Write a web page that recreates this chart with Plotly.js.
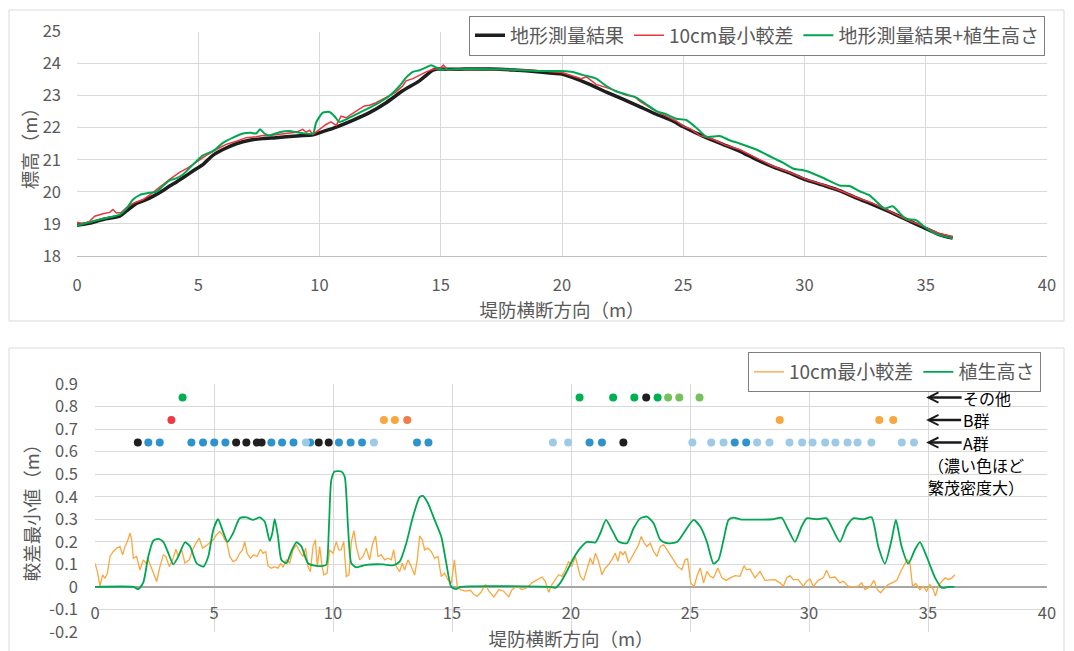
<!DOCTYPE html>
<html><head><meta charset="utf-8">
<script src="https://cdn.plot.ly/plotly-3.0.1.min.js"></script>
<style>html,body{margin:0;padding:0;background:#fff;}#chart{width:1074px;height:651px;}</style>
</head><body><div id="chart"></div>
<script>
// ---------- Top chart data (堤防横断方向 m / 標高 m) ----------
const terrainX = [0,0.5,1.07,1.5,1.76,2.03,2.45,2.8,3.13,3.5,3.82,4.1,4.37,4.78,5.19,5.6,6.02,6.57,7.12,7.66,8.2,8.63,9.2,9.73,10.14,10.69,11.37,12.06,12.75,13.43,14.12,14.67,14.85,15.5,16,17,18,19.08,20,20.45,21.14,21.83,22.51,23.2,23.89,24.57,25,25.95,26.63,27.32,28.01,28.7,29.38,30,30.76,31.44,32.13,32.82,33.5,34.19,34.88,35.55,36.11];
const terrainZ = [18.96,19.02,19.14,19.2,19.24,19.4,19.64,19.74,19.86,20.02,20.18,20.31,20.44,20.65,20.85,21.14,21.32,21.5,21.61,21.66,21.69,21.72,21.75,21.78,21.88,22.02,22.23,22.47,22.78,23.15,23.46,23.79,23.83,23.82,23.83,23.83,23.8,23.74,23.67,23.56,23.35,23.11,22.89,22.66,22.42,22.21,22.03,21.69,21.48,21.27,21.01,20.78,20.59,20.39,20.21,20.04,19.81,19.6,19.38,19.14,18.9,18.67,18.56];

const minDiffTopX = [0,0.25,0.52,0.73,1.07,1.35,1.48,1.62,1.83,2.03,2.31,2.51,2.72,2.99,3.41,3.82,4.23,4.57,4.92,5.33,5.74,6.15,6.57,6.98,7.39,7.66,7.94,8.49,9.04,9.31,9.45,9.59,9.73,10,10.27,10.47,10.69,10.89,11.1,11.37,11.65,11.85,12.06,12.33,12.61,12.88,13.15,13.43,13.57,13.85,14.12,14.4,14.67,14.95,15.11,15.29,15.7,16.2,16.7,17.2,17.7,18.2,18.7,19.08,20,20.45,20.8,21,21.41,21.83,22.24,22.65,23,23.2,23.75,24.3,24.71,25,25.33,25.67,26.22,26.77,27.32,28.01,28.7,29.38,30.07,30.76,31.44,32.13,32.82,33.5,34.19,34.88,35.55,36.11];
const minDiffTopZ = [19.05,19.01,19.08,19.24,19.32,19.36,19.45,19.34,19.36,19.5,19.64,19.71,19.76,19.9,20.16,20.39,20.61,20.75,20.93,21.14,21.32,21.48,21.58,21.69,21.72,21.76,21.76,21.82,21.86,21.95,21.86,21.92,21.79,21.95,22.1,22.18,22.07,22.36,22.31,22.45,22.57,22.68,22.7,22.78,22.89,22.99,23.11,23.3,23.46,23.53,23.64,23.74,23.82,23.84,23.95,23.8,23.82,23.8,23.83,23.81,23.82,23.79,23.8,23.77,23.72,23.61,23.53,23.59,23.35,23.25,23.15,23.01,22.97,22.83,22.57,22.36,22.21,22.05,21.95,21.76,21.64,21.45,21.32,21.06,20.8,20.61,20.39,20.23,20.05,19.83,19.64,19.4,19.14,18.93,18.7,18.61];

const vegTopX = [0,1.07,1.76,2.03,2.31,2.58,2.99,3.27,3.54,3.82,4.09,4.37,4.78,5.19,5.6,6.02,6.43,6.84,7.18,7.39,7.55,7.73,7.94,8.35,8.76,9.18,9.73,9.86,10.14,10.41,10.62,10.82,11.1,11.65,12.33,12.88,13.3,13.57,13.85,14.12,14.4,14.6,14.81,14.95,16,17.5,19.08,20,20.45,20.87,21.41,21.83,22.24,22.65,23.06,23.48,23.89,24.3,24.71,25.12,25.54,25.95,26.5,26.91,27.32,28.01,28.7,29.11,29.52,30.07,30.76,31.44,31.85,32.27,32.68,32.95,33.3,33.64,33.92,34.19,34.6,35,35.42,36.11];
const vegTopZ = [18.95,19.16,19.29,19.47,19.76,19.9,19.97,20,20.18,20.36,20.42,20.54,20.85,21.14,21.27,21.53,21.69,21.82,21.84,21.82,21.95,21.82,21.76,21.86,21.9,21.84,21.82,22.16,22.47,22.49,22.36,22.18,22.26,22.47,22.73,22.99,23.3,23.56,23.74,23.79,23.88,23.95,23.88,23.82,23.83,23.82,23.77,23.77,23.74,23.64,23.53,23.3,23.13,23.04,22.94,22.73,22.52,22.42,22.28,22.24,22,21.72,21.74,21.61,21.51,21.32,21.06,20.91,20.73,20.65,20.44,20.2,20.18,20.02,19.89,19.71,19.48,19.55,19.34,19.16,19.12,18.88,18.69,18.55];

// ---------- Bottom chart data (較差最小値 m) ----------
const minDiffX = [0,0.1,0.21,0.32,0.42,0.52,0.63,0.77,0.91,1.05,1.16,1.26,1.36,1.47,1.54,1.61,1.75,1.89,2.03,2.14,2.24,2.38,2.48,2.59,2.73,2.87,2.98,3.12,3.26,3.4,3.5,3.64,3.78,3.96,4.1,4.24,4.38,4.52,4.66,4.8,4.97,5.1,5.24,5.36,5.45,5.55,5.66,5.8,5.94,6.08,6.2,6.29,6.39,6.53,6.67,6.81,6.95,7.06,7.17,7.27,7.41,7.55,7.69,7.8,7.9,8.04,8.18,8.32,8.46,8.6,8.74,8.85,8.95,9.05,9.16,9.26,9.34,9.44,9.54,9.62,9.75,9.86,10,10.14,10.24,10.34,10.45,10.56,10.67,10.77,10.88,10.98,11.12,11.26,11.4,11.54,11.65,11.79,11.89,12.03,12.17,12.31,12.45,12.55,12.66,12.8,12.91,13.01,13.15,13.29,13.43,13.54,13.64,13.75,13.85,13.99,14.13,14.27,14.41,14.55,14.69,14.83,14.97,15.1,15.22,15.36,15.57,15.78,15.92,16.06,16.2,16.41,16.55,16.76,16.97,17.17,17.38,17.52,17.73,17.94,18.15,18.36,18.57,18.78,18.92,19.06,19.2,19.34,19.48,19.62,19.76,19.9,20.04,20.18,20.29,20.39,20.53,20.67,20.81,20.92,21.02,21.16,21.3,21.44,21.58,21.72,21.86,21.97,22.07,22.18,22.28,22.42,22.56,22.7,22.84,22.95,23.08,23.19,23.33,23.47,23.61,23.75,23.89,24.03,24.17,24.31,24.48,24.66,24.8,24.9,25.03,25.17,25.29,25.43,25.57,25.71,25.85,25.99,26.17,26.34,26.52,26.69,26.9,27.1,27.27,27.38,27.52,27.73,27.94,28.15,28.36,28.57,28.78,28.92,29.06,29.2,29.34,29.55,29.76,29.9,30.04,30.18,30.39,30.6,30.74,30.88,31.09,31.3,31.44,31.65,31.86,32.07,32.21,32.35,32.56,32.73,32.87,33.01,33.19,33.33,33.55,33.69,33.89,34.03,34.13,34.24,34.35,34.49,34.66,34.8,34.94,35.08,35.22,35.31,35.43,35.58,35.72,35.86,36,36.13];
const minDiffY = [0.105,0.068,0.004,0.053,0.038,0.061,0.135,0.157,0.172,0.179,0.142,0.179,0.201,0.238,0.209,0.127,0.135,0.075,0.12,0.105,0.12,0.083,0.061,0.024,0.09,0.142,0.135,0.09,0.12,0.167,0.135,0.164,0.105,0.12,0.164,0.194,0.216,0.172,0.182,0.194,0.209,0.231,0.246,0.231,0.209,0.194,0.135,0.112,0.12,0.149,0.164,0.201,0.149,0.127,0.142,0.135,0.167,0.149,0.157,0.093,0.083,0.09,0.083,0.105,0.087,0.12,0.105,0.164,0.186,0.157,0.135,0.172,0.09,0.068,0.179,0.209,0.09,0.179,0.09,0.053,0.061,0.164,0.149,0.201,0.164,0.164,0.201,0.046,0.053,0.201,0.25,0.179,0.12,0.135,0.172,0.12,0.186,0.226,0.135,0.142,0.12,0.127,0.12,0.164,0.09,0.068,0.105,0.075,0.12,0.09,0.053,0.12,0.226,0.209,0.164,0.172,0.157,0.127,0.135,0.046,0.061,0.031,0.016,0.12,0.003,-0.012,-0.019,-0.015,-0.034,-0.041,-0.026,0.01,-0.019,-0.044,-0.012,-0.019,-0.044,-0.012,0.003,-0.012,-0.004,0.018,0.032,0.044,0.025,-0.024,0.01,0.032,0.054,0.047,0.076,0.113,0.091,0.135,0.091,0.047,0.029,0.076,0.128,0.099,0.15,0.113,0.054,0.084,0.099,0.121,0.15,0.113,0.157,0.143,0.157,0.106,0.135,0.165,0.187,0.224,0.194,0.179,0.194,0.157,0.135,0.179,0.187,0.165,0.143,0.121,0.091,0.076,0.121,0.124,0.018,0,0.047,0.084,0.018,0.069,0.047,0.04,0.084,0.04,0.029,0.04,0.05,0.047,0.094,0.076,0.079,0.04,0.069,0.029,0.032,0.032,0.018,0.003,0.04,0.05,0.032,0.032,0.003,0.025,0.035,0.003,0.029,0.04,0.074,0.04,0.044,0.018,0.025,0.003,0,0.003,0.018,-0.012,0,0.029,-0.012,-0.026,-0.004,0.01,0.021,0.029,0.076,0.099,0.121,0.106,0.003,0.015,-0.012,0.003,-0.019,0.01,-0.012,-0.041,0.003,0.025,0.04,0.032,0.04,0.054];

const vegHeightX = [0,1.61,1.82,2.03,2.24,2.45,2.66,2.87,3.08,3.29,3.5,3.78,3.99,4.27,4.55,4.76,4.97,5.17,5.38,5.57,5.8,6.08,6.36,6.64,6.92,7.13,7.34,7.45,7.55,7.69,7.83,8.04,8.25,8.46,8.67,8.95,9.3,9.58,9.72,9.83,9.93,10.07,10.35,10.49,10.63,10.77,10.98,11.4,12.1,12.52,12.8,13.08,13.36,13.64,13.78,13.99,14.27,14.55,14.76,14.97,15.17,15.36,19.13,19.34,19.55,19.83,20.11,20.39,20.67,21.02,21.23,21.47,21.72,22,22.35,22.63,22.91,23.19,23.47,23.75,24.03,24.45,24.73,25.15,25.43,25.71,25.99,26.2,26.41,26.62,26.83,27.1,28.5,28.85,29.13,29.41,29.69,29.9,30.32,30.74,31.01,31.3,31.58,31.86,32.28,32.63,32.91,33.19,33.47,33.65,33.89,34.17,34.45,34.66,34.94,35.3,35.58,35.86,36.11];
const vegHeightY = [0,0,-0.01,0.02,0.135,0.205,0.213,0.2,0.15,0.1,0.135,0.198,0.18,0.105,0.09,0.135,0.253,0.3,0.245,0.2,0.238,0.305,0.308,0.297,0.308,0.29,0.204,0.238,0.3,0.223,0.12,0.105,0.157,0.198,0.18,0.105,0.093,0.093,0.098,0.268,0.475,0.512,0.512,0.49,0.268,0.105,0.087,0.098,0.1,0.096,0.112,0.194,0.312,0.398,0.404,0.371,0.297,0.223,0.105,0,-0.01,0,0,-0.004,0.018,0.07,0.128,0.172,0.2,0.197,0.238,0.297,0.253,0.2,0.194,0.26,0.304,0.312,0.282,0.209,0.194,0.199,0.238,0.297,0.268,0.2,0.103,0.121,0.209,0.297,0.307,0.3,0.3,0.307,0.253,0.2,0.268,0.304,0.3,0.304,0.253,0.2,0.268,0.304,0.3,0.309,0.179,0.103,0.209,0.297,0.179,0.103,0.165,0.199,0.135,0.04,-0.004,0,0];

// ---------- Vegetation group markers (x positions along the levee) ----------
const rowLevels = {A: 0.64, B: 0.74, other: 0.84};
const groupA_dense = [2.24,2.72,4.05,4.54,5.01,5.48,7.41,7.86,8.34,9.04,10.25,10.74,11.22,13.53,14.01,20.78,21.3,26.88,27.36];
const groupA_sparse = [8.86,11.72,19.24,19.88,25.1,25.89,26.41,27.82,28.34,29.18,29.71,30.15,30.68,31.11,31.62,32.04,32.62,33.9,34.41];
const groupA_black = [1.8,5.93,6.36,6.8,7.0,9.4,9.82,22.2];
const groupB_orange = [12.14,12.6,28.77,32.95,33.54];
const groupB_red = [3.21];
const groupB_coral = [13.12];
const other_green = [3.68,20.36,21.77,22.66,23.64];
const other_lightgreen = [24.08,24.55,25.4];
const other_black = [23.16];

const yTickVals2 = [-0.2,-0.1,0,0.1,0.2,0.3,0.4,0.5,0.6,0.7,0.8,0.9];
const yTickText2 = ['-0.2','-0.1','0','0.1','0.2','0.3','0.4','0.5','0.6','0.7','0.8','0.9'];

// ---------- layout helpers ----------
const W = 1074, H = 651;
const px = v => v / W;
const py = v => 1 - v / H;
const FONT = '"Noto Sans CJK JP", "Noto Sans", sans-serif';
const GRAY = '#595959';
const GRID = '#d9d9d9';

function dots(xs, level, color) {
  return {x: xs, y: xs.map(() => level), type: 'scatter', mode: 'markers',
    marker: {color: color, size: 8}, xaxis: 'x2', yaxis: 'y2', showlegend: false, hoverinfo: 'x'};
}

const traces = [
  {x: terrainX, y: terrainZ, name: '地形測量結果', type: 'scatter', mode: 'lines',
   line: {color: '#1e1e1e', width: 3.5, shape: 'spline', smoothing: 0.6}, xaxis: 'x', yaxis: 'y', legend: 'legend'},
  {x: minDiffTopX, y: minDiffTopZ, name: '10cm最小較差', type: 'scatter', mode: 'lines',
   line: {color: '#e8383d', width: 1.5}, xaxis: 'x', yaxis: 'y', legend: 'legend'},
  {x: vegTopX, y: vegTopZ, name: '地形測量結果+植生高さ', type: 'scatter', mode: 'lines',
   line: {color: '#00a650', width: 2, shape: 'spline', smoothing: 0.6}, xaxis: 'x', yaxis: 'y', legend: 'legend'},
  {x: minDiffX, y: minDiffY, name: '10cm最小較差', type: 'scatter', mode: 'lines',
   line: {color: '#f9a73e', width: 1.3}, xaxis: 'x2', yaxis: 'y2', legend: 'legend2'},
  {x: vegHeightX, y: vegHeightY, name: '植生高さ', type: 'scatter', mode: 'lines',
   line: {color: '#00a650', width: 1.8, shape: 'spline', smoothing: 0.6}, xaxis: 'x2', yaxis: 'y2', legend: 'legend2'},
  dots(groupA_dense, rowLevels.A, '#2e93cd'),
  dots(groupA_sparse, rowLevels.A, '#9fcae7'),
  dots(groupA_black, rowLevels.A, '#1f1f1f'),
  dots(groupB_orange, rowLevels.B, '#f9a73e'),
  dots(groupB_red, rowLevels.B, '#ee3b43'),
  dots(groupB_coral, rowLevels.B, '#f47b4a'),
  dots(other_green, rowLevels.other, '#00b050'),
  dots(other_lightgreen, rowLevels.other, '#74c05a'),
  dots(other_black, rowLevels.other, '#1f1f1f')
];

const y2Dom = [py(632), py(384)];
const zeroPos = y2Dom[0] + (0 - (-0.2)) / 1.1 * (y2Dom[1] - y2Dom[0]);

const tickFont = {family: FONT, size: 16.5, color: GRAY};
const titleFont = {family: FONT, size: 18.5, color: GRAY};

const arrowCommon = {xref: 'x2', yref: 'y2', x: 34.92, showarrow: true, ay: 0,
  arrowhead: 5, arrowsize: 0.8, arrowwidth: 2.5, arrowcolor: '#1a1a1a',
  font: {family: FONT, size: 16, color: '#000'}};
const noteCommon = {xref: 'paper', yref: 'paper', x: px(926), xanchor: 'left', yanchor: 'middle',
  align: 'left', showarrow: false, font: {family: FONT, size: 16, color: '#000'}};

const layout = {
  width: W, height: H,
  margin: {l: 0, r: 0, t: 0, b: 0},
  paper_bgcolor: '#fff', plot_bgcolor: '#fff',
  font: {family: FONT, color: GRAY},
  showlegend: true,
  xaxis: {domain: [px(77), px(1047)], range: [0, 40], dtick: 5, anchor: 'y',
    showgrid: true, gridcolor: GRID, zeroline: false, showline: true, linecolor: '#bfbfbf',
    ticks: '', tickfont: tickFont, automargin: false, ticklabelstandoff: 14,
    title: {text: '堤防横断方向（m）', font: titleFont, standoff: 0}},
  yaxis: {domain: [py(256), py(31.5)], range: [18, 25], dtick: 1, anchor: 'x',
    showgrid: true, gridcolor: GRID, zeroline: false, showline: false,
    ticks: '', tickfont: tickFont, automargin: false, ticklabelstandoff: 15,
    title: {text: '標高（m）', font: titleFont, standoff: 0}},
  xaxis2: {domain: [px(95), px(1047)], range: [0, 40], dtick: 5, anchor: 'free', position: zeroPos,
    showgrid: true, gridcolor: GRID, zeroline: false, showline: false,
    ticks: '', tickfont: tickFont, automargin: false, ticklabelstandoff: 15,
    title: {text: '堤防横断方向（m）', font: titleFont, standoff: 12}},
  yaxis2: {domain: y2Dom, range: [-0.2, 0.9], anchor: 'x2',
    tickmode: 'array', tickvals: yTickVals2, ticktext: yTickText2,
    showgrid: true, gridcolor: GRID, zeroline: true, zerolinecolor: '#a6a6a6', zerolinewidth: 1.2, showline: false,
    ticks: '', tickfont: tickFont, automargin: false, ticklabelstandoff: 16,
    title: {text: '較差最小値（m）', font: titleFont, standoff: 4}},
  legend: {orientation: 'h', x: px(1045), xanchor: 'right', y: py(15.5), yanchor: 'top',
    bgcolor: '#fff', bordercolor: '#7f7f7f', borderwidth: 1, itemwidth: 30,
    font: {family: FONT, size: 19, color: GRAY}},
  legend2: {orientation: 'h', x: px(1041), xanchor: 'right', y: py(352), yanchor: 'top',
    bgcolor: '#fff', bordercolor: '#7f7f7f', borderwidth: 1, itemwidth: 30,
    font: {family: FONT, size: 19, color: GRAY}},
  shapes: [
    {type: 'rect', xref: 'paper', yref: 'paper', x0: px(9), x1: px(1064), y0: py(321), y1: py(10),
     line: {color: '#d9d9d9', width: 1}, fillcolor: 'rgba(0,0,0,0)', layer: 'below'},
    {type: 'rect', xref: 'paper', yref: 'paper', x0: px(9), x1: px(1064), y0: py(660), y1: py(348),
     line: {color: '#d9d9d9', width: 1}, fillcolor: 'rgba(0,0,0,0)', layer: 'below'}
  ],
  annotations: [
    Object.assign({}, arrowCommon, {y: rowLevels.other, text: 'その他', ax: 61}),
    Object.assign({}, arrowCommon, {y: rowLevels.B, text: 'B群', ax: 50}),
    Object.assign({}, arrowCommon, {y: rowLevels.A, text: 'A群', ax: 50}),
    Object.assign({}, noteCommon, {y: py(465), text: '（濃い色ほど'}),
    Object.assign({}, noteCommon, {y: py(487), text: '繁茂密度大）'})
  ]
};

Plotly.newPlot('chart', traces, layout, {displayModeBar: false, staticPlot: true});
</script>
</body></html>
